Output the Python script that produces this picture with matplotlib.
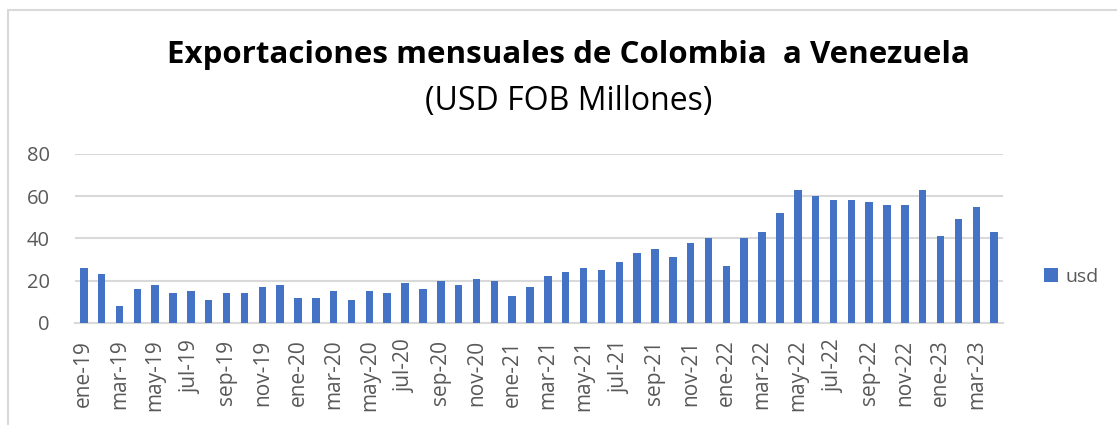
import matplotlib
matplotlib.use("Agg")
import matplotlib.pyplot as plt
from matplotlib.patches import Rectangle

months = ["ene", "feb", "mar", "abr", "may", "jun", "jul", "ago", "sep", "oct", "nov", "dic"]
labels = [f"{m}-{y}" for y in ["19", "20", "21", "22"] for m in months] + \
         [f"{m}-23" for m in months[:4]]

usd = [26, 23, 8, 16, 18, 14, 15, 11, 14, 14, 17, 18,
       12, 12, 15, 11, 15, 14, 19, 16, 20, 18, 21, 20,
       13, 17, 22, 24, 26, 25, 29, 33, 35, 31, 38, 40,
       27, 40, 43, 52, 63, 60, 58, 58, 57, 56, 56, 63,
       41, 49, 55, 43]

title = "Exportaciones mensuales de Colombia  a Venezuela"
subtitle = "(USD FOB Millones)"
yticks = [0, 20, 40, 60, 80]

FONT = ["Open Sans", "DejaVu Sans"]
GRAY = "#595959"
BLUE = "#4472C4"

fig = plt.figure(figsize=(11.17, 4.25), dpi=100)
ax = fig.add_axes([0.067, 0.24, 0.831, 0.398])

x = list(range(len(usd)))
ax.bar(x, usd, width=0.42, color=BLUE, label="usd", zorder=3)

ax.set_xlim(-0.5, len(usd) - 0.5)
ax.set_ylim(0, 80)
ax.set_yticks(yticks)
ax.set_yticklabels([str(v) for v in yticks], fontsize=14.5, color=GRAY, family=FONT)
ax.set_xticks(x[::2])
ax.set_xticklabels(labels[::2], rotation=90, fontsize=15, color=GRAY, family=FONT)
ax.tick_params(axis="x", length=0, pad=12)
ax.tick_params(axis="y", length=0, pad=18)
ax.grid(axis="y", color="#d9d9d9", linewidth=1.5, zorder=0)
for s in ["top", "right", "left"]:
    ax.spines[s].set_visible(False)
ax.spines["bottom"].set_color("#d9d9d9")
ax.spines["bottom"].set_linewidth(1.5)

fig.text(0.509, 0.871, title, ha="center", va="center", fontsize=22.5,
         fontweight="bold", family=FONT, color="black")
fig.text(0.509, 0.762, subtitle, ha="center", va="center", fontsize=23,
         family=FONT, color="black")

leg = fig.legend(loc="center left", bbox_to_anchor=(0.9346, 0.348), frameon=False,
                 prop={"family": FONT, "size": 14}, handlelength=0.7, handleheight=0.7,
                 handletextpad=0.4, borderpad=0, borderaxespad=0)
for t in leg.get_texts():
    t.set_color(GRAY)

fig.patches.append(Rectangle((0.0072, -0.05), 1.05, 0.9765 + 0.05, transform=fig.transFigure,
                             fill=False, edgecolor="#d9d9d9", linewidth=1.5))

fig.savefig("out.png", dpi=100)
